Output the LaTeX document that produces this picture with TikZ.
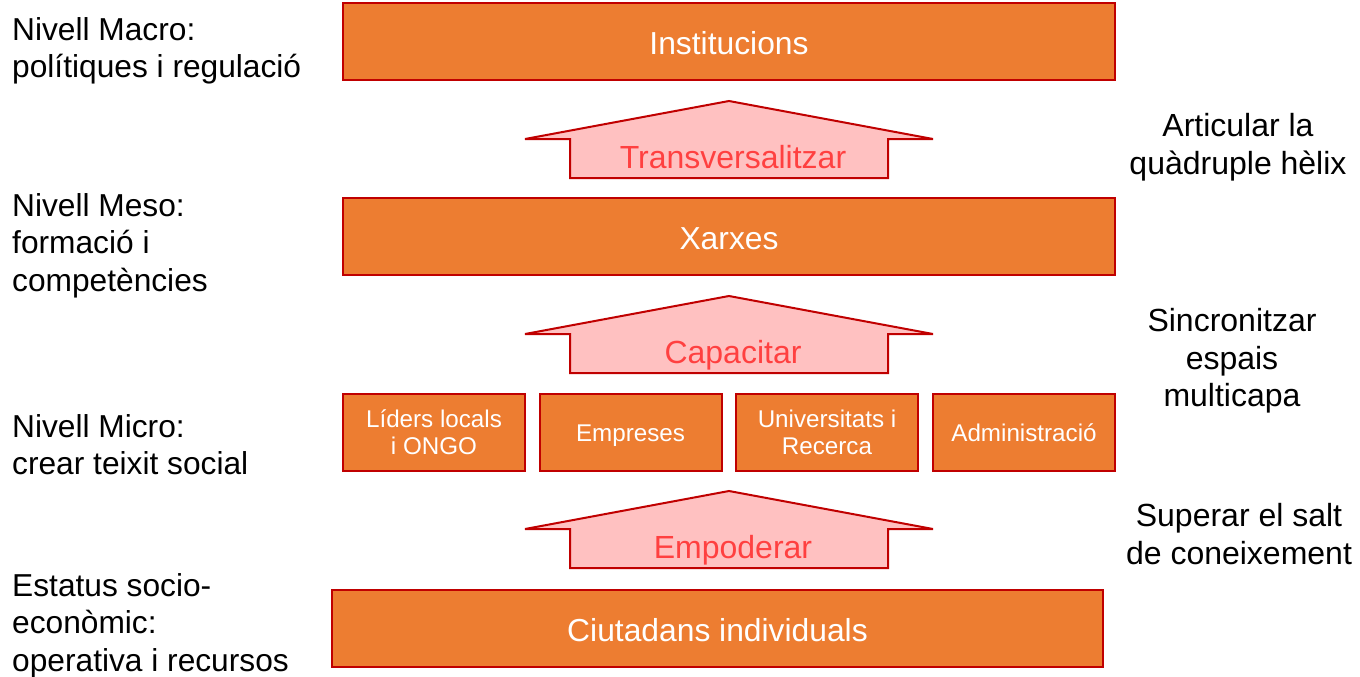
\documentclass[tikz,border=0pt]{standalone}
\usepackage{fontspec}
\setmainfont{Liberation Sans}
\definecolor{boxfill}{HTML}{ED7D31}
\definecolor{boxline}{HTML}{C00000}
\definecolor{arrfill}{HTML}{FFC1C1}
\definecolor{arrtext}{HTML}{FF4040}
\begin{document}
\begin{tikzpicture}[x=1pt,y=-1pt,
  bigbox/.style={draw=boxline,fill=boxfill,line width=2pt,minimum height=77pt,text=white,font=\fontsize{31.8}{38}\selectfont,inner sep=0pt,text height=26pt,text depth=0pt},
  smallbox/.style={draw=boxline,fill=boxfill,line width=2pt,minimum height=77pt,minimum width=182pt,text=white,font=\fontsize{24.2}{27}\selectfont,align=center,inner sep=0pt},
  oneline/.style={text height=17pt,text depth=0pt},
  uparrow/.style={draw=boxline,fill=arrfill,line width=2pt,line join=miter},
  arrlabel/.style={text=arrtext,font=\fontsize{32}{38}\selectfont,inner sep=0pt,anchor=base},
  sidelabel/.style={font=\fontsize{31.7}{37.5}\selectfont,inner sep=0pt,align=left,anchor=north west},
  rightlabel/.style={font=\fontsize{32}{37.5}\selectfont,inner sep=0pt,align=center}]
\useasboundingbox (0,0) rectangle (1360,677);
% main boxes
\node[bigbox,minimum width=772pt] (inst) at (729,41.5) {Institucions};
\node[bigbox,minimum width=772pt] (xarx) at (729,236.5) {Xarxes};
\node[bigbox,minimum width=771pt] (ciut) at (717.5,628.5) {Ciutadans individuals};
\node[smallbox] (lid) at (434,432.5) {Líders locals\\i ONGO};
\node[smallbox,oneline] (emp) at (630.5,432.5) {Empreses};
\node[smallbox] (uni) at (827,432.5) {Universitats i\\Recerca};
\node[smallbox,oneline] (adm) at (1024,432.5) {Administració};
% arrows
\foreach \t/\name/\lab in {101/a1/Transversalitzar,296/a2/Capacitar,491/a3/Empoderar}{
  \draw[uparrow] (729,\t) -- (933,\t+38) -- (888,\t+38) -- (888,\t+77) -- (570,\t+77) -- (570,\t+38) -- (525,\t+38) -- cycle;
  \node[arrlabel] (\name) at (733,\t+67) {\lab};
}
% left labels
\node[sidelabel] (macro) at (12,17) {Nivell Macro:\\polítiques i regulació};
\node[sidelabel] (meso) at (12,193) {Nivell Meso:\\formació i\\competències};
\node[sidelabel] (micro) at (12,414) {Nivell Micro:\\crear teixit social};
\node[sidelabel] (estat) at (12,573) {Estatus socio-\\econòmic:\\operativa i recursos};
% right labels
\node[rightlabel] (artic) at (1238,147) {Articular la\\quàdruple hèlix};
\node[rightlabel] (sinc) at (1232,361) {Sincronitzar\\espais\\multicapa};
\node[rightlabel] (super) at (1239,534) {Superar el salt\\de coneixement};
\end{tikzpicture}
\end{document}
